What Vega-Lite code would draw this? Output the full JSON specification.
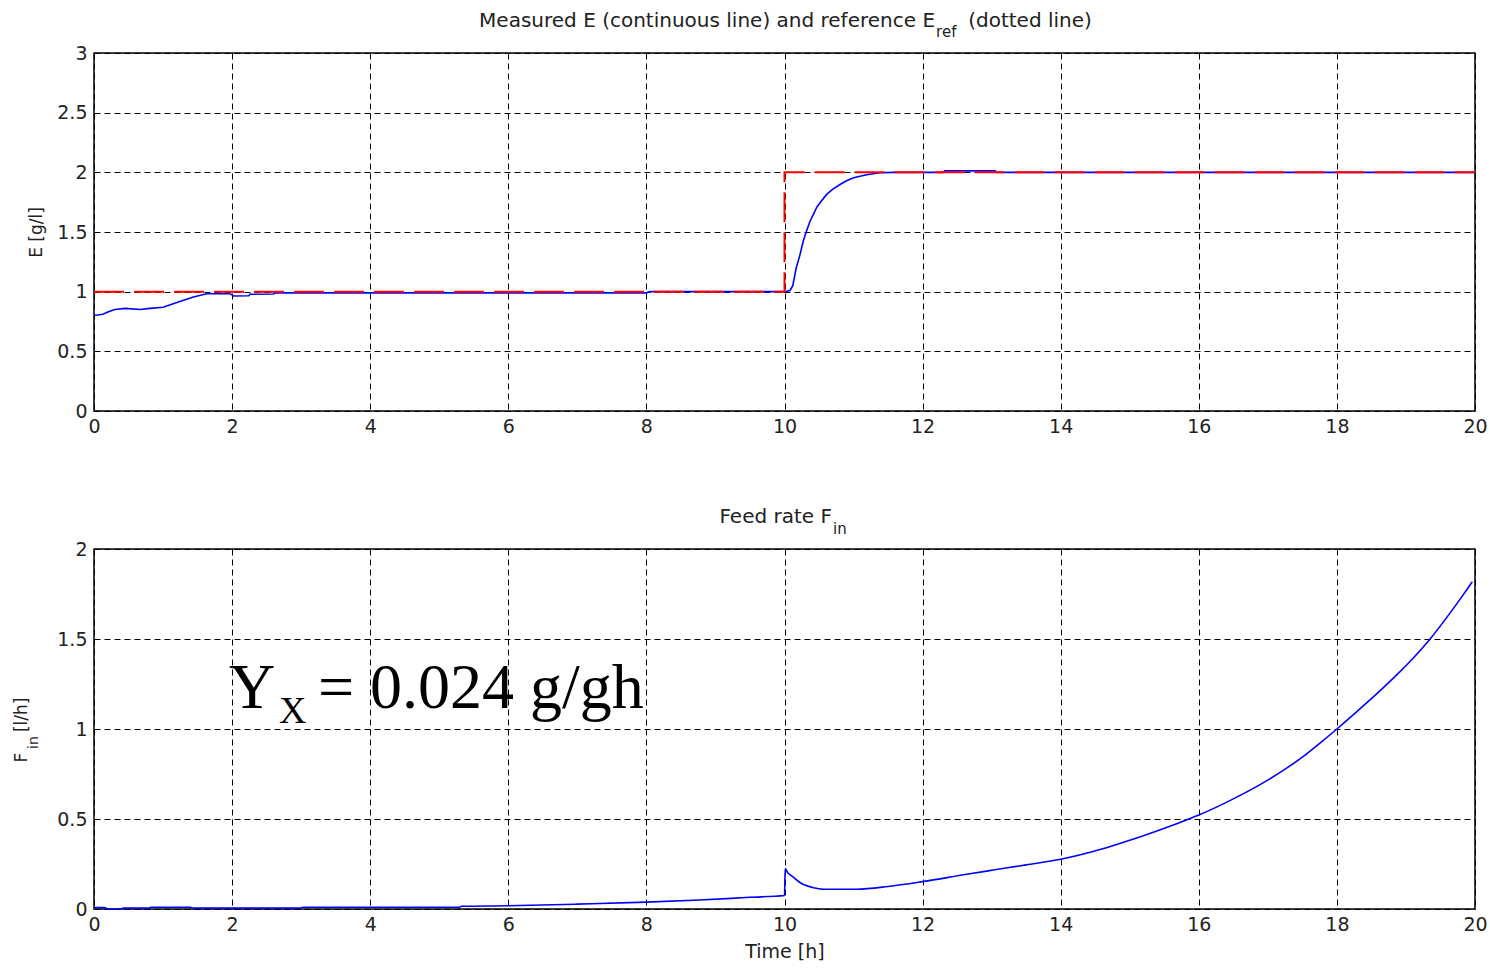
{
  "$schema": "https://vega.github.io/schema/vega-lite/v6.json",
  "padding": {"left": 12, "top": 10, "right": 5, "bottom": 5},
  "background": "white",
  "bounds": "flush",
  "spacing": 138,
  "config": {
    "view": {"stroke": "black", "strokeWidth": 1.5},
    "font": "DejaVu Sans",
    "axis": {
      "domain": false,
      "ticks": false,
      "grid": true,
      "gridColor": "black",
      "gridOpacity": 1,
      "gridDash": [6, 4],
      "gridWidth": 1,
      "labelFont": "DejaVu Sans",
      "labelFontSize": 19,
      "labelColor": "#222222",
      "labelFlush": false,
      "labelOverlap": false,
      "labelBound": false,
      "titleFont": "DejaVu Sans",
      "titleFontSize": 19,
      "titleFontWeight": "normal",
      "titleColor": "#222222"
    },
    "axisX": {"labelPadding": 6, "titlePadding": 8},
    "axisY": {"labelPadding": 7, "titlePadding": 11}
  },
  "resolve": {"scale": {"x": "independent", "y": "independent"}},
  "datasets": {
    "E": [
      {"t": 0, "e": 0.80}, {"t": 0.13, "e": 0.81}, {"t": 0.2, "e": 0.83}, {"t": 0.3, "e": 0.85},
      {"t": 0.45, "e": 0.86}, {"t": 0.67, "e": 0.85}, {"t": 0.81, "e": 0.86}, {"t": 1.0, "e": 0.87},
      {"t": 1.2, "e": 0.91}, {"t": 1.44, "e": 0.955}, {"t": 1.63, "e": 0.983}, {"t": 1.97, "e": 0.983},
      {"t": 2.02, "e": 0.964}, {"t": 2.24, "e": 0.966}, {"t": 2.26, "e": 0.978}, {"t": 2.6, "e": 0.98},
      {"t": 2.62, "e": 0.99}, {"t": 5, "e": 0.99}, {"t": 8, "e": 0.99}, {"t": 8.05, "e": 1.0},
      {"t": 10.0, "e": 1.0}, {"t": 10.08, "e": 1.01}, {"t": 10.12, "e": 1.05}, {"t": 10.17, "e": 1.2},
      {"t": 10.22, "e": 1.3}, {"t": 10.27, "e": 1.42}, {"t": 10.32, "e": 1.51}, {"t": 10.37, "e": 1.59},
      {"t": 10.42, "e": 1.65}, {"t": 10.47, "e": 1.71}, {"t": 10.52, "e": 1.75}, {"t": 10.61, "e": 1.815},
      {"t": 10.7, "e": 1.86}, {"t": 10.81, "e": 1.9}, {"t": 10.9, "e": 1.93}, {"t": 11.0, "e": 1.955},
      {"t": 11.19, "e": 1.98}, {"t": 11.38, "e": 1.997}, {"t": 11.6, "e": 2.0}, {"t": 12.3, "e": 2.0},
      {"t": 12.32, "e": 2.012}, {"t": 13.05, "e": 2.012}, {"t": 13.07, "e": 2.0}, {"t": 20, "e": 2.0}
    ],
    "Eref": [
      {"t": 0, "e": 1}, {"t": 10, "e": 2}, {"t": 20, "e": 2}
    ],
    "F": [
      {"t": 0, "f": 0.008}, {"t": 0.15, "f": 0.008}, {"t": 0.2, "f": 0.0}, {"t": 0.4, "f": 0.0},
      {"t": 0.42, "f": 0.005}, {"t": 0.8, "f": 0.005}, {"t": 0.82, "f": 0.01}, {"t": 1.4, "f": 0.01},
      {"t": 1.42, "f": 0.005}, {"t": 3.0, "f": 0.005}, {"t": 3.02, "f": 0.01}, {"t": 5.3, "f": 0.01},
      {"t": 5.32, "f": 0.015}, {"t": 6, "f": 0.018}, {"t": 7, "f": 0.027}, {"t": 8, "f": 0.038},
      {"t": 8.77, "f": 0.05}, {"t": 9.5, "f": 0.065}, {"t": 10.0, "f": 0.075}, {"t": 10.01, "f": 0.225},
      {"t": 10.05, "f": 0.2}, {"t": 10.1, "f": 0.185}, {"t": 10.23, "f": 0.146}, {"t": 10.42, "f": 0.118},
      {"t": 10.56, "f": 0.11}, {"t": 11.04, "f": 0.11}, {"t": 11.5, "f": 0.125}, {"t": 12, "f": 0.152},
      {"t": 12.64, "f": 0.193}, {"t": 13, "f": 0.215}, {"t": 13.5, "f": 0.245}, {"t": 14, "f": 0.276},
      {"t": 14.57, "f": 0.33}, {"t": 15, "f": 0.382}, {"t": 15.29, "f": 0.42}, {"t": 15.65, "f": 0.47},
      {"t": 16, "f": 0.522}, {"t": 16.5, "f": 0.612}, {"t": 16.98, "f": 0.712}, {"t": 17.2, "f": 0.765},
      {"t": 17.47, "f": 0.835}, {"t": 17.75, "f": 0.92}, {"t": 18, "f": 1.0}, {"t": 18.43, "f": 1.145},
      {"t": 18.65, "f": 1.222}, {"t": 18.87, "f": 1.302}, {"t": 19.1, "f": 1.392}, {"t": 19.35, "f": 1.5},
      {"t": 19.64, "f": 1.645}, {"t": 19.8, "f": 1.73}, {"t": 19.96, "f": 1.818}
    ]
  },
  "vconcat": [
    {
      "width": 1381,
      "height": 358,
      "encoding": {
        "x": {"field": "t", "type": "quantitative",
              "scale": {"domain": [0, 20], "nice": false, "zero": false},
              "axis": {"values": [0, 2, 4, 6, 8, 10, 12, 14, 16, 18, 20], "title": null}},
        "y": {"field": "e", "type": "quantitative",
              "scale": {"domain": [0, 3], "nice": false},
              "axis": {"values": [0, 0.5, 1, 1.5, 2, 2.5, 3], "format": "~g", "title": "E [g/l]", "titleFontSize": 17}}
      },
      "layer": [
        {"data": {"name": "E"}, "mark": {"type": "line", "color": "#0000ff", "strokeWidth": 1.6}},
        {"data": {"name": "Eref"}, "mark": {"type": "line", "color": "#ff0000", "strokeWidth": 2, "strokeDash": [30, 10], "interpolate": "step-after"}},
        {"data": {"values": [{"t": 12.18, "e": 3.218, "label": "Measured E (continuous line) and reference E"}]},
         "mark": {"type": "text", "align": "right", "baseline": "alphabetic", "fontSize": 20, "color": "#222222", "font": "DejaVu Sans"},
         "encoding": {"text": {"field": "label"}}},
        {"data": {"values": [{"t": 12.195, "e": 3.13, "label": "ref"}]},
         "mark": {"type": "text", "align": "left", "baseline": "alphabetic", "fontSize": 15, "color": "#222222", "font": "DejaVu Sans"},
         "encoding": {"text": {"field": "label"}}},
        {"data": {"values": [{"t": 12.66, "e": 3.218, "label": "(dotted line)"}]},
         "mark": {"type": "text", "align": "left", "baseline": "alphabetic", "fontSize": 20, "color": "#222222", "font": "DejaVu Sans"},
         "encoding": {"text": {"field": "label"}}}
      ]
    },
    {
      "width": 1381,
      "height": 360,
      "encoding": {
        "x": {"field": "t", "type": "quantitative",
              "scale": {"domain": [0, 20], "nice": false, "zero": false},
              "axis": {"values": [0, 2, 4, 6, 8, 10, 12, 14, 16, 18, 20], "title": "Time [h]"}},
        "y": {"field": "f", "type": "quantitative",
              "scale": {"domain": [0, 2], "nice": false},
              "axis": {"values": [0, 0.5, 1, 1.5, 2], "format": "~g", "title": null}}
      },
      "layer": [
        {"data": {"name": "F"}, "mark": {"type": "line", "color": "#0000ff", "strokeWidth": 1.6, "interpolate": "monotone"}},
        {"data": {"values": [{"t": 10.688, "f": 2.144, "label": "Feed rate F"}]},
         "mark": {"type": "text", "align": "right", "baseline": "alphabetic", "fontSize": 20, "color": "#222222", "font": "DejaVu Sans"},
         "encoding": {"text": {"field": "label"}}},
        {"data": {"values": [{"t": 10.702, "f": 2.083, "label": "in"}]},
         "mark": {"type": "text", "align": "left", "baseline": "alphabetic", "fontSize": 15, "color": "#222222", "font": "DejaVu Sans"},
         "encoding": {"text": {"field": "label"}}},
        {"data": {"values": [{"t": -0.97, "f": 0.814, "label": "F"}, {"t": -0.97, "f": 0.983, "label": "[l/h]"}]},
         "mark": {"type": "text", "align": "left", "baseline": "alphabetic", "angle": 270, "fontSize": 17, "color": "#222222", "font": "DejaVu Sans"},
         "encoding": {"text": {"field": "label"}}},
        {"data": {"values": [{"t": -0.811, "f": 0.889, "label": "in"}]},
         "mark": {"type": "text", "align": "left", "baseline": "alphabetic", "angle": 270, "fontSize": 14, "color": "#222222", "font": "DejaVu Sans"},
         "encoding": {"text": {"field": "label"}}},
        {"data": {"values": [{"t": 1.955, "f": 1.117, "label": "Y"}, {"t": 3.244, "f": 1.117, "label": "= 0.024 g/gh"}]},
         "mark": {"type": "text", "align": "left", "baseline": "alphabetic", "fontSize": 64, "color": "black", "font": "Liberation Serif"},
         "encoding": {"text": {"field": "label"}}},
        {"data": {"values": [{"t": 2.68, "f": 1.033, "label": "X"}]},
         "mark": {"type": "text", "align": "left", "baseline": "alphabetic", "fontSize": 38, "color": "black", "font": "Liberation Serif"},
         "encoding": {"text": {"field": "label"}}}
      ]
    }
  ]
}
